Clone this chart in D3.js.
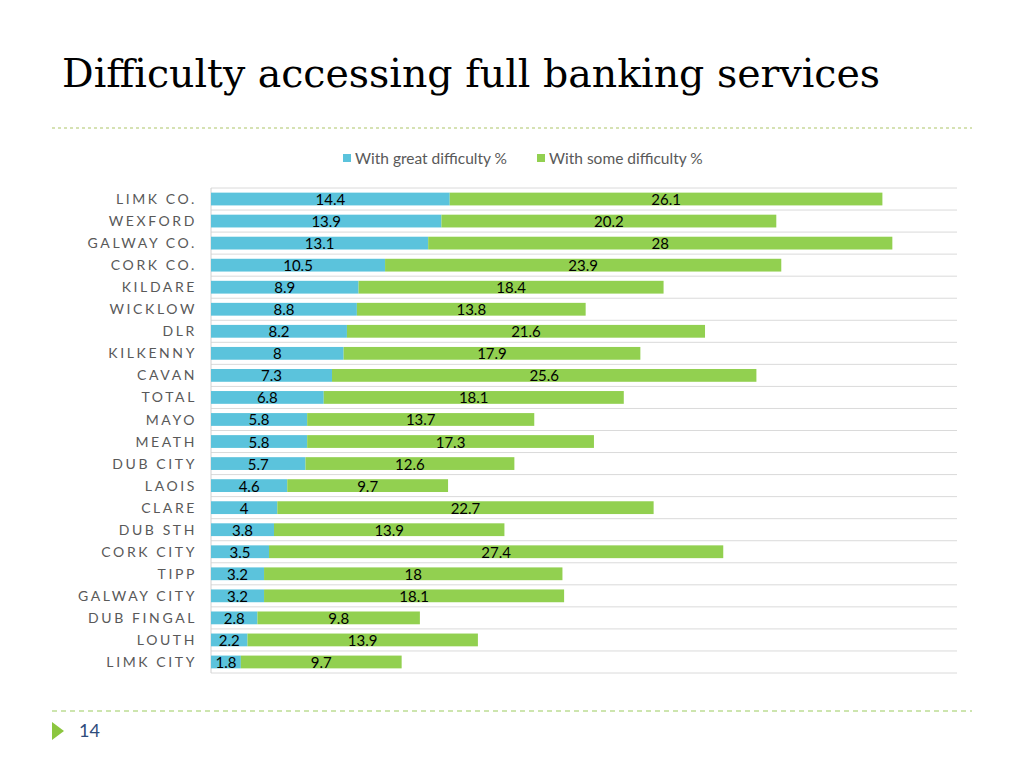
<!DOCTYPE html>
<html><head><meta charset="utf-8">
<script src="https://cdn.jsdelivr.net/npm/d3@7/dist/d3.min.js"></script>
<style>body{margin:0;background:#fff;}svg{display:block;}</style>
</head><body>
<svg id="c" width="1024" height="768"></svg>
<script>
const categories = ["LIMK CO.","WEXFORD","GALWAY CO.","CORK CO.","KILDARE","WICKLOW","DLR","KILKENNY","CAVAN","TOTAL","MAYO","MEATH","DUB CITY","LAOIS","CLARE","DUB STH","CORK CITY","TIPP","GALWAY CITY","DUB FINGAL","LOUTH","LIMK CITY"];
const greatDifficulty = [14.4,13.9,13.1,10.5,8.9,8.8,8.2,8,7.3,6.8,5.8,5.8,5.7,4.6,4,3.8,3.5,3.2,3.2,2.8,2.2,1.8];
const someDifficulty = [26.1,20.2,28,23.9,18.4,13.8,21.6,17.9,25.6,18.1,13.7,17.3,12.6,9.7,22.7,13.9,27.4,18,18.1,9.8,13.9,9.7];
const seriesNames = ["With great difficulty %","With some difficulty %"];
const colors = ["#5bc3dc","#92d050"];

const svg = d3.select("#c");
const sans = "'Gill Sans','Lato','Open Sans',sans-serif";

// Title
svg.append("text").attr("x",62).attr("y",87).attr("font-family","'DejaVu Serif',serif")
  .attr("font-size",40).attr("fill","#000").attr("textLength",818).attr("lengthAdjust","spacingAndGlyphs")
  .text("Difficulty accessing full banking services");
// top dotted line
svg.append("line").attr("x1",52).attr("x2",972).attr("y1",128).attr("y2",128)
  .attr("stroke","#c9d99a").attr("stroke-width",1.5).attr("stroke-dasharray","3,3");
// bottom dashed line
svg.append("line").attr("x1",52).attr("x2",972).attr("y1",711).attr("y2",711)
  .attr("stroke","#9ccc5e").attr("stroke-width",1.2).attr("stroke-dasharray","5,4");
// triangle & page number
svg.append("path").attr("d","M52,722 L64,731 L52,740 Z").attr("fill","#8cc63f");
svg.append("text").attr("x",79).attr("y",737).attr("font-family",sans).attr("font-size",18)
  .attr("fill","#2e4c7c").text("14");

const x = d3.scaleLinear().domain([0,45]).range([211,957]);
const y = d3.scaleBand().domain(categories).range([188,673]).paddingInner(0.42).paddingOuter(0.21);
const step = y.step();

// gridlines at band boundaries
const g = svg.append("g");
d3.range(categories.length+1).forEach(i=>{
  const yy = 188 + i*step;
  g.append("line").attr("x1",211).attr("x2",957).attr("y1",yy).attr("y2",yy)
    .attr("stroke","#dadada").attr("stroke-width",1);
});
g.append("line").attr("x1",211).attr("x2",211).attr("y1",188).attr("y2",673).attr("stroke","#d0d0d0");

const rows = categories.map((c,i)=>({c, a:greatDifficulty[i], b:someDifficulty[i]}));
// bars
svg.append("g").selectAll("rect.a").data(rows).join("rect")
  .attr("x",x(0)).attr("y",d=>y(d.c)).attr("height",y.bandwidth())
  .attr("width",d=>x(d.a)-x(0)).attr("fill",colors[0]);
svg.append("g").selectAll("rect.b").data(rows).join("rect")
  .attr("x",d=>x(d.a)).attr("y",d=>y(d.c)).attr("height",y.bandwidth())
  .attr("width",d=>x(d.a+d.b)-x(d.a)).attr("fill",colors[1]);
// value labels
const lab = svg.append("g").attr("font-family",sans).attr("font-size",15).attr("fill","#000").attr("text-anchor","middle");
rows.forEach(d=>{
  const cy = y(d.c)+y.bandwidth()/2+6;
  lab.append("text").attr("x",(x(0)+x(d.a))/2).attr("y",cy).text(d.a);
  lab.append("text").attr("x",(x(d.a)+x(d.a+d.b))/2).attr("y",cy).text(d.b);
});
// category axis
const ax = svg.append("g").attr("transform","translate(211,0)").call(d3.axisLeft(y).tickSize(0).tickPadding(14));
ax.select(".domain").remove();
ax.selectAll("text").attr("font-family",sans).attr("font-size",14).attr("fill","#595959")
  .attr("letter-spacing","2.6px").attr("dy","0.36em");

// legend
const leg = svg.append("g").attr("font-family",sans).attr("font-size",15.5).attr("fill","#595959");
const legX = [343,537];
seriesNames.forEach((n,i)=>{
  leg.append("rect").attr("x",legX[i]).attr("y",154).attr("width",8).attr("height",8).attr("fill",colors[i]);
  leg.append("text").attr("x",legX[i]+12).attr("y",164).text(n);
});
</script>
</body></html>
